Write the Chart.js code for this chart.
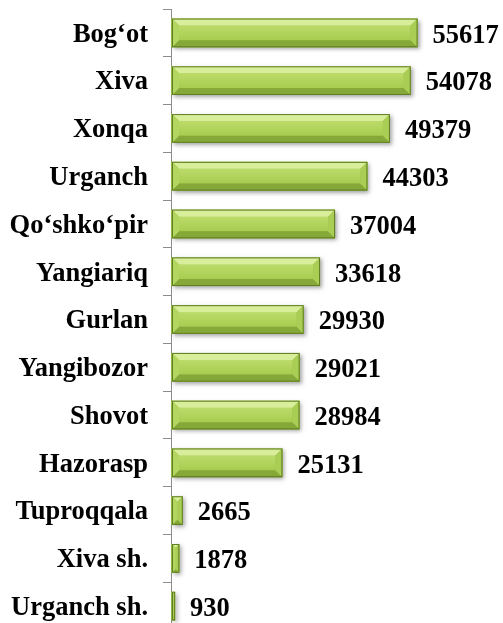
<!DOCTYPE html>
<html>
<head>
<meta charset="utf-8">
<script src="https://cdn.jsdelivr.net/npm/chart.js@4/dist/chart.umd.min.js"></script>
<style>
  html, body { margin: 0; padding: 0; background: #fff; overflow: hidden; }
  #wrap { width: 503px; height: 623px; overflow: hidden; }
  #chart { display: block; }
</style>
</head>
<body>
<div id="wrap"><canvas id="chart" width="503" height="640"></canvas></div>
<script>
const districts = [
    "Bog‘ot", "Xiva", "Xonqa", "Urganch", "Qo‘shko‘pir", "Yangiariq", "Gurlan",
    "Yangibozor", "Shovot", "Hazorasp", "Tuproqqala", "Xiva sh.", "Urganch sh."
];
const counts = [55617, 54078, 49379, 44303, 37004, 33618, 29930, 29021, 28984, 25131, 2665, 1878, 930];

const fontFamily = "'Liberation Serif', 'Times New Roman', serif";
const labelFont = { family: fontFamily, size: 26.5, weight: "bold" };

// bevelled green bars like the office-style 3D look
const bevelPlugin = {
    id: "bevel",
    afterDatasetsDraw(chart) {
        const ctx = chart.ctx;
        const meta = chart.getDatasetMeta(0);
        meta.data.forEach((bar, i) => {
            const left = bar.base + 1, right = bar.x;
            const top = bar.y - bar.height / 2, bottom = bar.y + bar.height / 2;
            const b = Math.min(7, (right - left) / 2);

            ctx.save();
            ctx.shadowColor = "rgba(0,0,0,0.35)";
            ctx.shadowBlur = 4;
            ctx.shadowOffsetX = 2;
            ctx.shadowOffsetY = 2;
            ctx.fillStyle = "#9cc148";
            ctx.fillRect(left, top, right - left, bottom - top);
            ctx.restore();

            const g = ctx.createLinearGradient(0, top, 0, bottom);
            g.addColorStop(0, "#c6e276");
            g.addColorStop(1, "#9dc543");
            ctx.fillStyle = g;
            ctx.fillRect(left + b, top + b, right - left - 2 * b, bottom - top - 2 * b);

            const poly = (pts, color) => {
                ctx.beginPath();
                ctx.moveTo(pts[0][0], pts[0][1]);
                pts.slice(1).forEach(p => ctx.lineTo(p[0], p[1]));
                ctx.closePath();
                ctx.fillStyle = color;
                ctx.fill();
            };
            poly([[left, top], [right, top], [right - b, top + b], [left + b, top + b]], "#d9ee9b");
            poly([[left, bottom], [right, bottom], [right - b, bottom - b], [left + b, bottom - b]], "#86a839");
            poly([[right, top], [right, bottom], [right - b, bottom - b], [right - b, top + b]], "#a9cd55");
            poly([[left, top], [left, bottom], [left + b, bottom - b], [left + b, top + b]], "#b2d660");

            ctx.strokeStyle = "#5f7d22";
            ctx.lineWidth = 1;
            ctx.strokeRect(left + 0.5, top + 0.5, right - left - 1, bottom - top - 1);

            // value label
            ctx.fillStyle = "#000";
            ctx.font = "bold 26.5px " + fontFamily;
            ctx.textAlign = "left";
            ctx.textBaseline = "middle";
            ctx.fillText(counts[i], right + 15, bar.y + 3);
        });
    }
};

new Chart(document.getElementById("chart"), {
    type: "bar",
    data: {
        labels: districts,
        datasets: [{
            data: counts,
            backgroundColor: "#9cc148",
            categoryPercentage: 1,
            barPercentage: 0.6
        }]
    },
    options: {
        indexAxis: "y",
        responsive: false,
        animation: false,
        layout: { padding: { top: 9, bottom: 10, left: 0, right: 66 } },
        plugins: { legend: { display: false }, tooltip: { enabled: false } },
        scales: {
            x: { display: false, min: 0, max: 60000 },
            y: {
                afterFit(scale) {
                    scale.width = 171;
                    scale.paddingTop = 0;
                    scale.paddingBottom = 0;
                },
                grid: {
                    offset: true,
                    drawOnChartArea: false,
                    drawTicks: true,
                    tickLength: 8,
                    color: "#8c8c8c"
                },
                border: { display: true, color: "#8c8c8c", width: 1 },
                ticks: {
                    color: "#000",
                    font: labelFont,
                    padding: 15,
                    labelOffset: 2
                }
            }
        }
    },
    plugins: [bevelPlugin]
});
</script>
</body>
</html>
